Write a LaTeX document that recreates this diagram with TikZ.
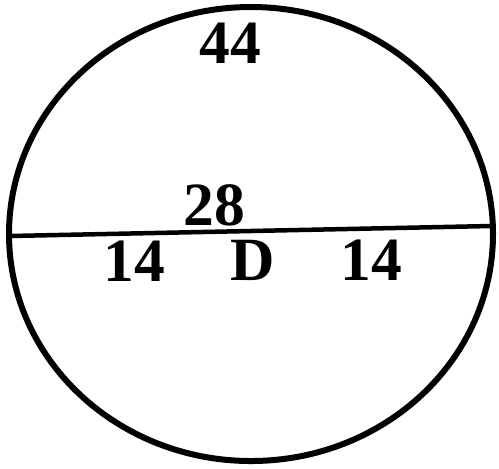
\documentclass[tikz,border=0pt]{standalone}
\usepackage{fontspec}
\setmainfont{Liberation Serif}
\usepackage{tikz}

\tikzset{
  numlabel/.style={font=\fontsize{35}{38}\selectfont\bfseries, inner sep=0pt}
}

\begin{document}
\begin{tikzpicture}[x=0.02cm,y=-0.02cm]
  % Frame of the page
  \useasboundingbox (0,0) rectangle (499,468);

  % Outer circle
  \draw[line width=0.12cm] (251,234) ellipse [x radius=242, y radius=227];

  % Diameter
  \coordinate (dl) at (10,236);
  \coordinate (dr) at (491,226);
  \draw[line width=0.09cm] (dl) -- (dr);

  % Labels
  \node[numlabel] (circ) at (230,43) {44};
  \node[numlabel] (diam) at (214,205) {28};
  \node[numlabel] (half1) at (134,261) {14};
  \node[numlabel] (ctr) at (253,260) {D};
  \node[numlabel] (half2) at (371,260) {14};
\end{tikzpicture}
\end{document}
